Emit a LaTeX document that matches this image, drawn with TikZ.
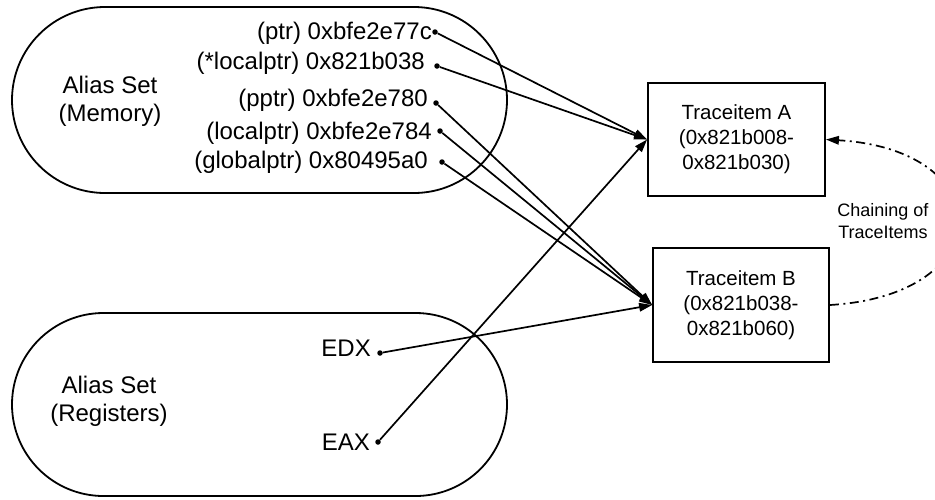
\documentclass[tikz,border=0pt]{standalone}
\usepackage{fontspec}
\setmainfont{Liberation Sans}
\usetikzlibrary{shapes.misc,arrows.meta}
\begin{document}
\begin{tikzpicture}[x=1pt,y=-1pt,
  aliasset/.style={draw, line width=1.8pt, rounded rectangle, minimum width=495pt, inner sep=0pt},
  setlbl/.style={align=center, inner sep=0pt, font=\fontsize{24}{28}\selectfont},
  traceitem/.style={draw, line width=1.8pt, minimum width=177pt, minimum height=113pt,
    align=center, inner sep=0pt, font=\fontsize{20.5}{25}\selectfont},
  addr/.style={anchor=east, inner sep=0pt, font=\fontsize{24}{28}\selectfont},
  pin/.style={circle, fill, inner sep=0pt, minimum size=5.5pt},
  link/.style={line width=1.7pt, -{Triangle[length=13pt,width=8.5pt]}},
  chainlink/.style={line width=1.7pt, dash pattern=on 9pt off 4.5pt on 2pt off 4.5pt,
    -{Triangle[length=13pt,width=8.5pt]}}
]
\useasboundingbox (0,0) rectangle (935,499);

% alias sets
\node[aliasset, minimum height=186pt] (mem) at (259.5,100) {};
\node[aliasset, minimum height=183pt] (reg) at (259.5,404.5) {};
\node[setlbl] (memlbl) at (110,101) {Alias Set\\(Memory)};
\node[setlbl] (reglbl) at (109,401) {Alias Set\\(Registers)};

% memory aliases
\node[addr] (a1) at (432,33) {(ptr) 0xbfe2e77c};
\node[addr] (a2) at (425,63) {(*localptr) 0x821b038};
\node[addr] (a3) at (428,100) {(pptr) 0xbfe2e780};
\node[addr] (a4) at (432,133) {(localptr) 0xbfe2e784};
\node[addr] (a5) at (428,162) {(globalptr) 0x80495a0};
\node[pin] (p1) at (435,32) {};
\node[pin] (p2) at (437,66) {};
\node[pin] (p3) at (436,103) {};
\node[pin] (p4) at (440,131) {};
\node[pin] (p5) at (442,162) {};

% register aliases
\node[addr] (edx) at (371,348) {EDX};
\node[addr] (eax) at (370,442) {EAX};
\node[pin] (pedx) at (380,353) {};
\node[pin] (peax) at (378,442) {};

% trace items
\node[traceitem] (A) at (736.5,139.5) {Traceitem A\\(0x821b008-\\0x821b030)};
\node[traceitem, minimum width=176pt, minimum height=114pt] (B) at (741,305) {Traceitem B\\(0x821b038-\\0x821b060)};

% alias to trace item links
\draw[link] (p1) -- (A.west);
\draw[link] (p2) -- (A.west);
\draw[link] (peax) -- (A.west);
\draw[link] (p3) -- (B.west);
\draw[link] (p4) -- (B.west);
\draw[link] (p5) -- (B.west);
\draw[link] (pedx) -- (B.west);

% chaining of trace items
\draw[chainlink] (B.east) .. controls (1000,295) and (1000,150) .. (A.east);
\node[align=center, inner sep=0pt, font=\fontsize{18}{22}\selectfont] (chainlbl) at (883,221) {Chaining of\\TraceItems};
\end{tikzpicture}
\end{document}
